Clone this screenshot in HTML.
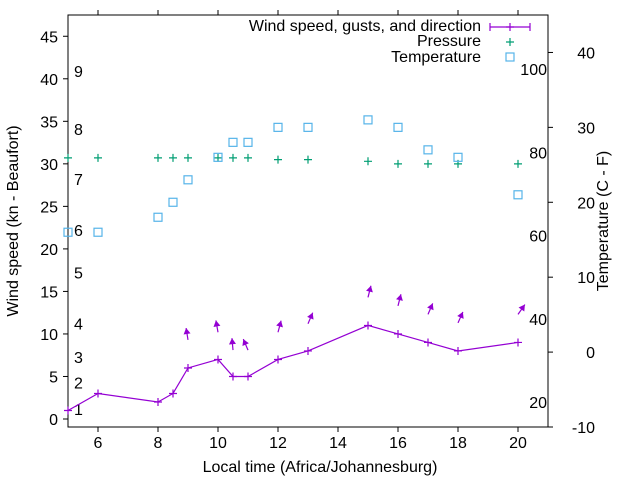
<!DOCTYPE html>
<html><head><meta charset="utf-8"><style>
body{margin:0;background:#fff}
svg{font-family:"Liberation Sans",sans-serif;font-size:16px}
</style></head><body>
<svg id="c" width="640" height="480" xmlns="http://www.w3.org/2000/svg"></svg>
<script>
const hours=[5,6,8,8.5,9,10,10.5,11,12,13,15,16,17,18,20];
const wind=[1,3,2,3,6,7,5,5,7,8,11,10,9,8,9];
const pressure=[30.7,30.7,30.7,30.7,30.7,30.7,30.7,30.7,30.5,30.5,30.3,30.0,30.0,30.0,30.0];
const tempC=[16,16,18,20,23,26,28,28,30,30,31,30,27,26,21];
const arrowHours=[9,10,10.5,11,12,13,15,16,17,18,20];
const arrowBase=[9.3,10.2,8.1,8.1,10.2,11.2,14.3,13.3,12.3,11.3,12.3];
const arrowDir=[-9,-10,-5,-23,15,23,14,14,23,24,35];
const xTicks=[6,8,10,12,14,16,18,20];
const yTicks=[0,5,10,15,20,25,30,35,40,45];
const y2Ticks=[-10,0,10,20,30,40];
const beaufort=[[1,1.2],[2,4.3],[3,7.3],[4,11.2],[5,17.2],[6,22.2],[7,28.2],[8,34.1],[9,40.9]];
const fTicks=[20,40,60,80,100];

const L=68,R=548,T=15,B=427;
const X=v=>L+(v-5)*(R-L)/16;
const Y=v=>B-(v+0.94)*(B-T)/48.44;
const Y2=v=>B-(v+10)*(B-T)/55;
const svg=document.getElementById('c');
const NS='http://www.w3.org/2000/svg';
function mk(tag,attrs,txt){const e=document.createElementNS(NS,tag);for(const k in attrs)e.setAttribute(k,attrs[k]);if(txt!==undefined)e.textContent=txt;svg.appendChild(e);return e;}
const purple='#9400d3',green='#009e73',blue='#56b4e9';

let e=mk('rect',{x:L,y:T,width:R-L,height:B-T,fill:'none',stroke:'#000','stroke-width':1});


xTicks.forEach(v=>{
  mk('line',{x1:X(v),x2:X(v),y1:B,y2:B+5,stroke:'#000'});
  mk('line',{x1:X(v),x2:X(v),y1:T,y2:T-5,stroke:'#000'});
  e=mk('text',{x:X(v),y:B+21,'text-anchor':'middle'},v);
  
  
});
yTicks.forEach(v=>{
  mk('line',{x1:L-5,x2:L,y1:Y(v),y2:Y(v),stroke:'#000'});
  e=mk('text',{x:L-10,y:Y(v)+6,'text-anchor':'end'},v);
  
  
});
y2Ticks.forEach(v=>{
  mk('line',{x1:R,x2:R+5,y1:Y2(v),y2:Y2(v),stroke:'#000'});
  e=mk('text',{x:R+47,y:Y2(v)+6,'text-anchor':'end'},v);
  
  
});
beaufort.forEach(b=>{
  e=mk('text',{x:74,y:Y(b[1])+6},b[0]);
  
  
});
fTicks.forEach(f=>{
  e=mk('text',{x:547,y:Y2((f-32)*5/9)+6,'text-anchor':'end'},f);
  
  
});
e=mk('text',{x:320,y:472,'text-anchor':'middle'},'Local time (Africa/Johannesburg)');


e=mk('text',{x:0,y:0,'text-anchor':'middle',transform:'translate(18,221) rotate(-90)'},'Wind speed (kn - Beaufort)');


e=mk('text',{x:0,y:0,'text-anchor':'middle',transform:'translate(608,221) rotate(-90)'},'Temperature (C - F)');



e=mk('polyline',{points:hours.map((h,i)=>X(h)+','+Y(wind[i])).join(' '),fill:'none',stroke:purple,'stroke-width':1.2});


function plus(x,y,c,name){e=mk('path',{d:`M${x-4},${y}h8M${x},${y-4}v8`,stroke:c,'stroke-width':1.2});}
hours.forEach((h,i)=>plus(X(h),Y(wind[i]),purple,'wind-point'));
arrowHours.forEach((h,i)=>{
  const a=arrowDir[i]*Math.PI/180,len=12;
  const x0=X(h),y0=Y(arrowBase[i]);
  const x1=x0+len*Math.sin(a),y1=y0-len*Math.cos(a);
  const ux=Math.sin(a),uy=-Math.cos(a),px=-uy,py=ux;
  const g=document.createElementNS(NS,'g');svg.appendChild(g);
  
  
  const l=document.createElementNS(NS,'line');
  [['x1',x0],['y1',y0],['x2',x1],['y2',y1],['stroke',purple],['stroke-width',1.2]].forEach(p=>l.setAttribute(p[0],p[1]));g.appendChild(l);
  const p=document.createElementNS(NS,'polygon');
  p.setAttribute('points',`${x1},${y1} ${x1-ux*6+px*3.5},${y1-uy*6+py*3.5} ${x1-ux*6-px*3.5},${y1-uy*6-py*3.5}`);
  p.setAttribute('fill',purple);g.appendChild(p);
});
hours.forEach((h,i)=>plus(X(h),Y(pressure[i]),green,'pressure-point'));
hours.forEach((h,i)=>{
  e=mk('rect',{x:X(h)-4,y:Y2(tempC[i])-4,width:8,height:8,fill:'none',stroke:blue,'stroke-width':1.2});
  
  
});
const leg=[['Wind speed, gusts, and direction',26],['Pressure',41],['Temperature',57]];
leg.forEach(l=>{e=mk('text',{x:481,y:l[1]+5,'text-anchor':'end'},l[0]);});
e=mk('path',{d:'M490,27H530M490,23v8M530,23v8',stroke:purple,'stroke-width':1.2});


plus(510,27,purple,'legend-wind-marker');
plus(510,42,green,'legend-pressure-marker');
e=mk('rect',{x:506,y:53,width:8,height:8,fill:'none',stroke:blue,'stroke-width':1.2});


</script>
</body></html>
